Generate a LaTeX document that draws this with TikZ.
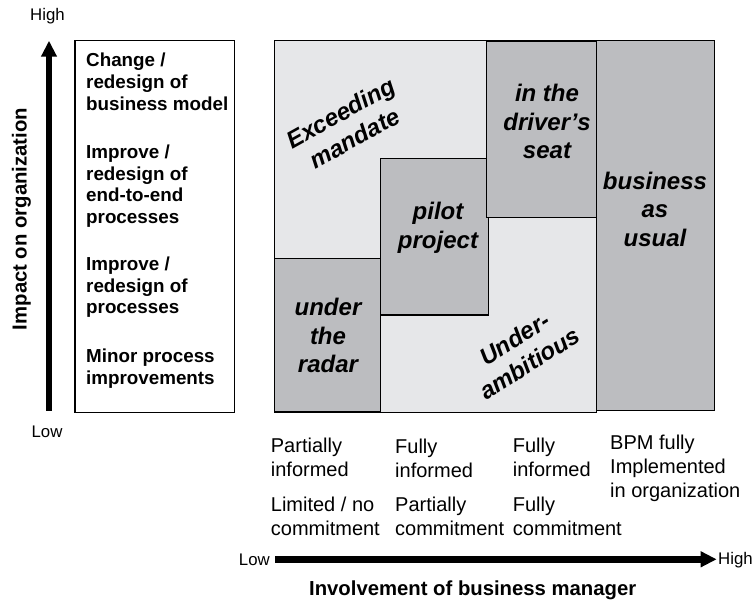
\documentclass[tikz,border=0pt]{standalone}
\usepackage{fontspec}
\setmainfont{Liberation Sans}
\usetikzlibrary{arrows.meta}
\definecolor{lightq}{HTML}{E6E7E9}
\definecolor{darkq}{HTML}{BCBDC0}
\begin{document}
\begin{tikzpicture}[x=1pt,y=-1pt,
  frame/.style={draw=black, line width=1.3pt},
  darkbox/.style={frame, fill=darkq},
  lightbox/.style={frame, fill=lightq},
  qtext/.style={font=\fontsize{24}{28.5}\selectfont\bfseries\itshape, align=center, inner sep=0pt},
  boxtext/.style={font=\fontsize{18.8}{21.7}\selectfont\bfseries, align=left, anchor=west, inner sep=0pt},
  axtext/.style={font=\fontsize{20}{23.8}\selectfont, align=left, anchor=west, inner sep=0pt},
  endtext/.style={font=\fontsize{16.8}{20}\selectfont, inner sep=0pt},
  titletext/.style={font=\fontsize{20.3}{24}\selectfont\bfseries, inner sep=0pt},
  axis/.style={line width=6.5pt, -{Triangle[length=16pt,width=15pt]}}
]
\useasboundingbox (0,0) rectangle (756,601);

% ---------- vertical axis ----------
\coordinate (vlow) at (49,411);
\coordinate (vhigh) at (49,40.7);
\draw[axis] (vlow) -- (vhigh);
\node[endtext] (vhightxt) at (47.5,16.5) {High};
\node[endtext] (vlowtxt) at (47,431.5) {Low};
\node[titletext, rotate=90] (vtitle) at (21.5,219) {Impact on organization};

% ---------- left box ----------
\draw[frame, fill=white] (75,40.5) rectangle (234.3,412.5);
\node[boxtext] (l1) at (86,81.7) {Change /\\redesign of\\business model};
\node[boxtext] (l2) at (86,186) {Improve /\\redesign of\\end-to-end\\processes};
\node[boxtext] (l3) at (86,287.3) {Improve /\\redesign of\\processes};
\node[boxtext] (l4) at (86,368.8) {Minor process\\improvements};

% ---------- matrix ----------
\draw[lightbox] (274.7,40.7) rectangle (596.7,412.5);
\draw[darkbox] (274.7,258.3) rectangle (380.7,412);
\draw[darkbox] (380.7,158.3) rectangle (488.7,315);
\draw[darkbox] (486.7,41.5) rectangle (597,217.7);
\draw[darkbox] (596.7,40.7) rectangle (714.3,410.3);

\node[qtext, rotate=29] (exceed) at (347.5,125.5) {Exceeding\\mandate};
\node[qtext] (driver) at (547,121.7) {in the\\driver’s\\seat};
\node[qtext] (bau) at (655,209.3) {business\\as\\usual};
\node[qtext] (pilot) at (438,228) {pilot\\project};
\node[qtext] (radar) at (328,335.7) {under\\the\\radar};
\node[qtext, rotate=32] (under) at (522,351) {Under-\\ambitious};

% ---------- bottom labels ----------
\node[axtext] (c1a) at (270.7,457.2) {Partially\\informed};
\node[axtext] (c1b) at (270.7,516.7) {Limited / no\\commitment};
\node[axtext] (c2a) at (395,458) {Fully\\informed};
\node[axtext] (c2b) at (395,516.7) {Partially\\commitment};
\node[axtext] (c3a) at (512.7,457.2) {Fully\\informed};
\node[axtext] (c3b) at (512.7,516.5) {Fully\\commitment};
\node[axtext] (c4a) at (610,468.5) {BPM fully\\Implemented\\in organization};

% ---------- horizontal axis ----------
\coordinate (hlow) at (275,559.3);
\coordinate (hhigh) at (716.7,559.3);
\draw[axis] (hlow) -- (hhigh);
\node[endtext, anchor=east] (hlowtxt) at (270,560) {Low};
\node[endtext, anchor=west] (hhightxt) at (718,560) {High};
\node[titletext] (htitle) at (472.7,590) {Involvement of business manager};
\end{tikzpicture}
\end{document}
